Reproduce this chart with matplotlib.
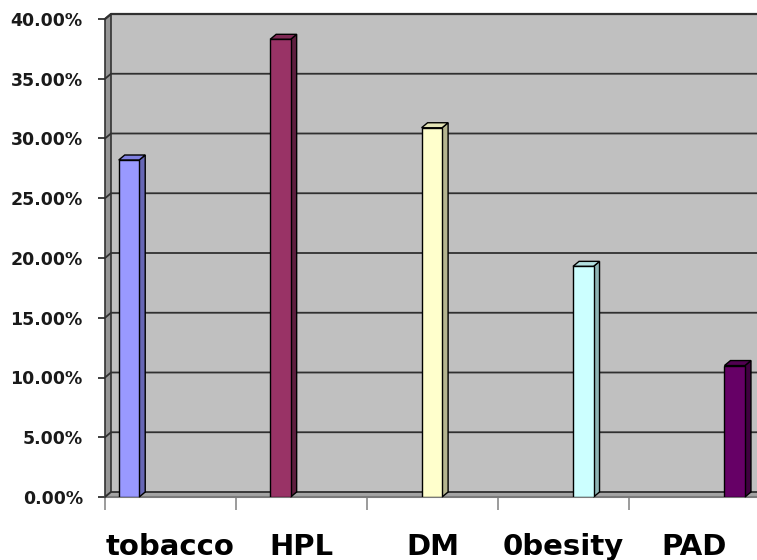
import numpy as np
import matplotlib.pyplot as plt
from matplotlib.patches import Polygon, Rectangle
from matplotlib.ticker import FuncFormatter

# risk factors and their share of patients (%)
categories = ['tobacco', 'HPL', 'DM', '0besity', 'PAD']
values = [28.2, 38.3, 30.9, 19.3, 11.0]
front_colors = ['#9999FF', '#993366', '#FFFFCC', '#CCFFFF', '#660066']
side_colors = ['#6767B5', '#5E1F3F', '#B5B58F', '#8FB5B5', '#3F003F']
top_colors = ['#8080E0', '#7F2A55', '#E3E3B5', '#B3E0E0', '#520052']

W, H, DPI = 757, 560, 100
fig = plt.figure(figsize=(W / DPI, H / DPI), dpi=DPI, facecolor='white')

# plot area of the front plane in pixels
left_px, right_px, top_px, bot_px = 105, 757, 19, 497
ax = fig.add_axes([left_px / W, 1 - bot_px / H,
                   (right_px - left_px) / W, (bot_px - top_px) / H])
slot_px = 131.0
xmax = (right_px - left_px) / slot_px
ymax = 40.0
ax.set_xlim(0, xmax)
ax.set_ylim(0, ymax)
ax.patch.set_visible(False)
for s in ax.spines.values():
    s.set_visible(False)

# 3d depth expressed in data units
dx = 6 / slot_px
dy = 5 * ymax / (bot_px - top_px)

# walls and floor
ax.add_patch(Rectangle((dx, dy), xmax, ymax, facecolor='#C0C0C0',
                       edgecolor='none', clip_on=False, zorder=0))
ax.add_patch(Polygon([(0, 0), (0, ymax), (dx, ymax + dy), (dx, dy)],
                     closed=True, facecolor='#969696', edgecolor='#333333',
                     lw=1.2, clip_on=False, zorder=1))
ax.add_patch(Polygon([(0, 0), (xmax + 1, 0), (xmax + 1 + dx, dy), (dx, dy)],
                     closed=True, facecolor='#A4A4A4', edgecolor='none',
                     clip_on=False, zorder=1))
ax.plot([0, xmax + 1], [0, 0], color='#7A7A7A', lw=1.5, clip_on=False, zorder=2)

# gridlines on the back wall
yticks = np.arange(0, 45, 5)
for v in yticks:
    ax.plot([0, dx, xmax + 1], [v, v + dy, v + dy], color='#303030',
            lw=1.6 if v == ymax else 1.3, clip_on=False, zorder=2)

# bars with side and top faces
bar_w = 20.5 / slot_px
bar_x = 0.183 + np.arange(len(values)) * 1.156
for c, v, fc, sc, tc in zip(bar_x, values, front_colors, side_colors, top_colors):
    x0, x1 = c - bar_w / 2, c + bar_w / 2
    ax.add_patch(Polygon([(x1, 0), (x1 + dx, dy), (x1 + dx, v + dy), (x1, v)],
                         closed=True, facecolor=sc, edgecolor='black', lw=1,
                         clip_on=False, zorder=4))
    ax.add_patch(Polygon([(x0, v), (x1, v), (x1 + dx, v + dy), (x0 + dx, v + dy)],
                         closed=True, facecolor=tc, edgecolor='black', lw=1,
                         clip_on=False, zorder=4))
    ax.bar(c, v, width=bar_w, color=fc, edgecolor='black', lw=1, zorder=5)

# axes ticks and labels
ax.set_yticks(yticks)
ax.yaxis.set_major_formatter(FuncFormatter(lambda v, p: f'{v:.2f}%'))
ax.tick_params(axis='y', length=5, width=1.2, color='#202020', pad=11,
               labelsize=12.5, labelcolor='#1a1a1a')
for lab in ax.get_yticklabels():
    lab.set_fontweight('bold')

ax.set_xticks(np.arange(len(categories)) + 0.5)
ax.set_xticklabels(categories, fontsize=21, fontweight='bold')
ax.set_xticks(np.arange(len(categories)), minor=True)
ax.tick_params(axis='x', which='major', length=0, pad=26)
ax.tick_params(axis='x', which='minor', length=9.5, width=1.2, color='#8A8A8A')

fig.savefig('out.png', dpi=DPI)
